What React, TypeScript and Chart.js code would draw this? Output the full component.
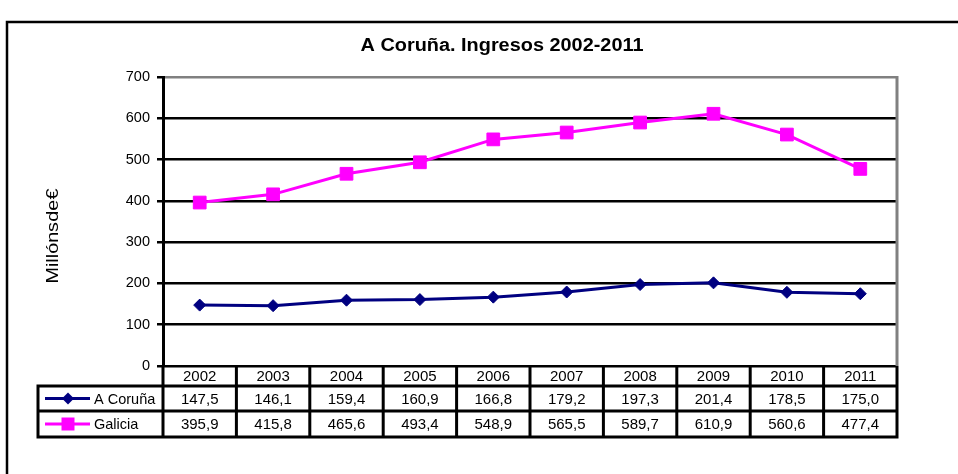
import React, { useEffect, useRef } from 'react';
import { Chart, registerables } from 'chart.js';

Chart.register(...registerables);

const years = ['2002', '2003', '2004', '2005', '2006', '2007', '2008', '2009', '2010', '2011'];
const coruna = [147.5, 146.1, 159.4, 160.9, 166.8, 179.2, 197.3, 201.4, 178.5, 175.0];
const galicia = [395.9, 415.8, 465.6, 493.4, 548.9, 565.5, 589.7, 610.9, 560.6, 477.4];
const seriesNames = ['A Coruña', 'Galicia'];
const seriesColors = ['#000080', '#FF00FF'];
const yMin = 0;
const yMax = 700;
const yStep = 100;
const chartTitle = 'A Coruña. Ingresos 2002-2011';
const yAxisTitle = 'Millóns de €';

const FONT = '"Liberation Sans", Arial, sans-serif';

const fmt = (v: number) => v.toFixed(1).replace('.', ',');

function drawMarker(ctx: CanvasRenderingContext2D, kind: string, x: number, y: number, color: string) {
  ctx.save();
  ctx.fillStyle = color;
  ctx.beginPath();
  if (kind === 'rect') {
    ctx.rect(x - 6.5, y - 6.5, 13, 13);
  } else {
    ctx.moveTo(x - 6, y);
    ctx.lineTo(x, y - 6);
    ctx.lineTo(x + 6, y);
    ctx.lineTo(x, y + 6);
    ctx.closePath();
  }
  ctx.fill();
  ctx.restore();
}

function fitText(ctx: CanvasRenderingContext2D, text: string, x: number, y: number, targetW: number) {
  const w = ctx.measureText(text).width;
  const s = targetW / w;
  ctx.save();
  ctx.translate(x, y);
  ctx.scale(s, 1);
  ctx.textAlign = 'center';
  ctx.fillText(text, 0, 0);
  ctx.restore();
}

const extrasPlugin = {
  id: 'extras',
  beforeDraw(chart: any) {
    const ctx = chart.ctx as CanvasRenderingContext2D;
    ctx.save();
    ctx.fillStyle = '#ffffff';
    ctx.fillRect(0, 0, chart.width, chart.height);
    ctx.restore();
  },
  afterDraw(chart: any) {
    const ctx = chart.ctx as CanvasRenderingContext2D;
    const { left, right, top, bottom } = chart.chartArea;
    const xs = chart.scales.x;
    ctx.save();

    // plot area right border (gray)
    ctx.strokeStyle = '#808080';
    ctx.lineWidth = 3;
    ctx.beginPath();
    ctx.moveTo(right, top - 1);
    ctx.lineTo(right, bottom);
    ctx.stroke();

    // outer frame
    ctx.strokeStyle = '#000000';
    ctx.lineWidth = 2.5;
    ctx.strokeRect(7, 22, 1100, 600);

    // title
    ctx.fillStyle = '#000000';
    ctx.font = `bold 18px ${FONT}`;
    ctx.textBaseline = 'middle';
    fitText(ctx, chartTitle, 502, 46, 283);

    // y axis title
    ctx.save();
    ctx.translate(53, 236);
    ctx.rotate(-Math.PI / 2);
    ctx.font = `17px ${FONT}`;
    (ctx as any).wordSpacing = '-4.5px';
    fitText(ctx, yAxisTitle, 0, 0, 95);
    ctx.restore();

    // data table
    const n = years.length;
    const colW = (right - left) / n;
    const tableLeft = 38;
    const r1 = bottom;
    const r2 = 386;
    const r3 = 411;
    const r4 = 437;
    ctx.strokeStyle = '#000000';
    ctx.lineWidth = 3;
    ctx.beginPath();
    for (let i = 0; i <= n; i++) {
      const x = left + i * colW;
      ctx.moveTo(x, r1);
      ctx.lineTo(x, r4);
    }
    ctx.moveTo(tableLeft, r2);
    ctx.lineTo(tableLeft, r4);
    [r2, r3, r4].forEach((y) => {
      ctx.moveTo(tableLeft - 1.5, y);
      ctx.lineTo(right + 1.5, y);
    });
    ctx.stroke();

    ctx.font = `15px ${FONT}`;
    ctx.textAlign = 'center';
    ctx.textBaseline = 'middle';
    const rows = [coruna, galicia];
    const rowMid = [(r2 + r3) / 2 + 1, (r3 + r4) / 2 + 1];
    for (let i = 0; i < n; i++) {
      const cx = xs.getPixelForValue(i);
      ctx.fillText(years[i], cx, (r1 + r2) / 2 + 1);
      rows.forEach((vals, k) => ctx.fillText(fmt(vals[i]), cx, rowMid[k]));
    }

    // legend keys
    ctx.font = `14.5px ${FONT}`;
    ['rectRot', 'rect'].forEach((kind, k) => {
      const y = rowMid[k] - 1;
      ctx.strokeStyle = seriesColors[k];
      ctx.lineWidth = 3;
      ctx.beginPath();
      ctx.moveTo(45, y);
      ctx.lineTo(90, y);
      ctx.stroke();
      drawMarker(ctx, kind, 68, y, seriesColors[k]);
      ctx.fillStyle = '#000000';
      ctx.textAlign = 'left';
      ctx.fillText(seriesNames[k], 94, rowMid[k]);
    });

    ctx.restore();
  },
};

export default function App() {
  const ref = useRef<HTMLCanvasElement>(null);
  useEffect(() => {
    if (!ref.current) return;
    const chart = new Chart(ref.current, {
      type: 'line',
      data: {
        labels: years,
        datasets: [
          {
            label: seriesNames[0],
            data: coruna,
            borderColor: seriesColors[0],
            backgroundColor: seriesColors[0],
            borderWidth: 3,
            pointStyle: 'rectRot',
            pointRadius: 6,
            pointBorderWidth: 1,
            tension: 0,
          },
          {
            label: seriesNames[1],
            data: galicia,
            borderColor: seriesColors[1],
            backgroundColor: seriesColors[1],
            borderWidth: 3,
            pointStyle: 'rect',
            pointRadius: 9,
            pointBorderWidth: 1,
            tension: 0,
          },
        ],
      },
      options: {
        animation: false,
        responsive: false,
        devicePixelRatio: 1,
        layout: { padding: { left: 0, top: 77, right: 61, bottom: 108 } },
        plugins: {
          legend: { display: false },
          title: { display: false },
          tooltip: { enabled: false },
        },
        scales: {
          x: {
            type: 'category',
            display: false,
            offset: true,
          },
          y: {
            min: yMin,
            max: yMax,
            afterFit: (scale: any) => {
              scale.width = 163;
            },
            ticks: {
              stepSize: yStep,
              color: '#000000',
              padding: 7,
              font: { family: FONT, size: 14.5 },
            },
            grid: {
              color: (c: any) => (c.tick && c.tick.value === yMax ? '#808080' : '#000000'),
              lineWidth: 2.5,
              tickLength: 6,
              tickColor: '#000000',
              tickWidth: 2.5,
            },
            border: { display: true, color: '#000000', width: 3 },
          },
        },
      },
      plugins: [extrasPlugin],
    });
    return () => chart.destroy();
  }, []);
  return (
    <div style={{ position: 'fixed', left: 0, top: 0, width: 958, height: 474, background: '#fff' }}>
      <canvas ref={ref} width={958} height={474} style={{ display: 'block' }} />
    </div>
  );
}
